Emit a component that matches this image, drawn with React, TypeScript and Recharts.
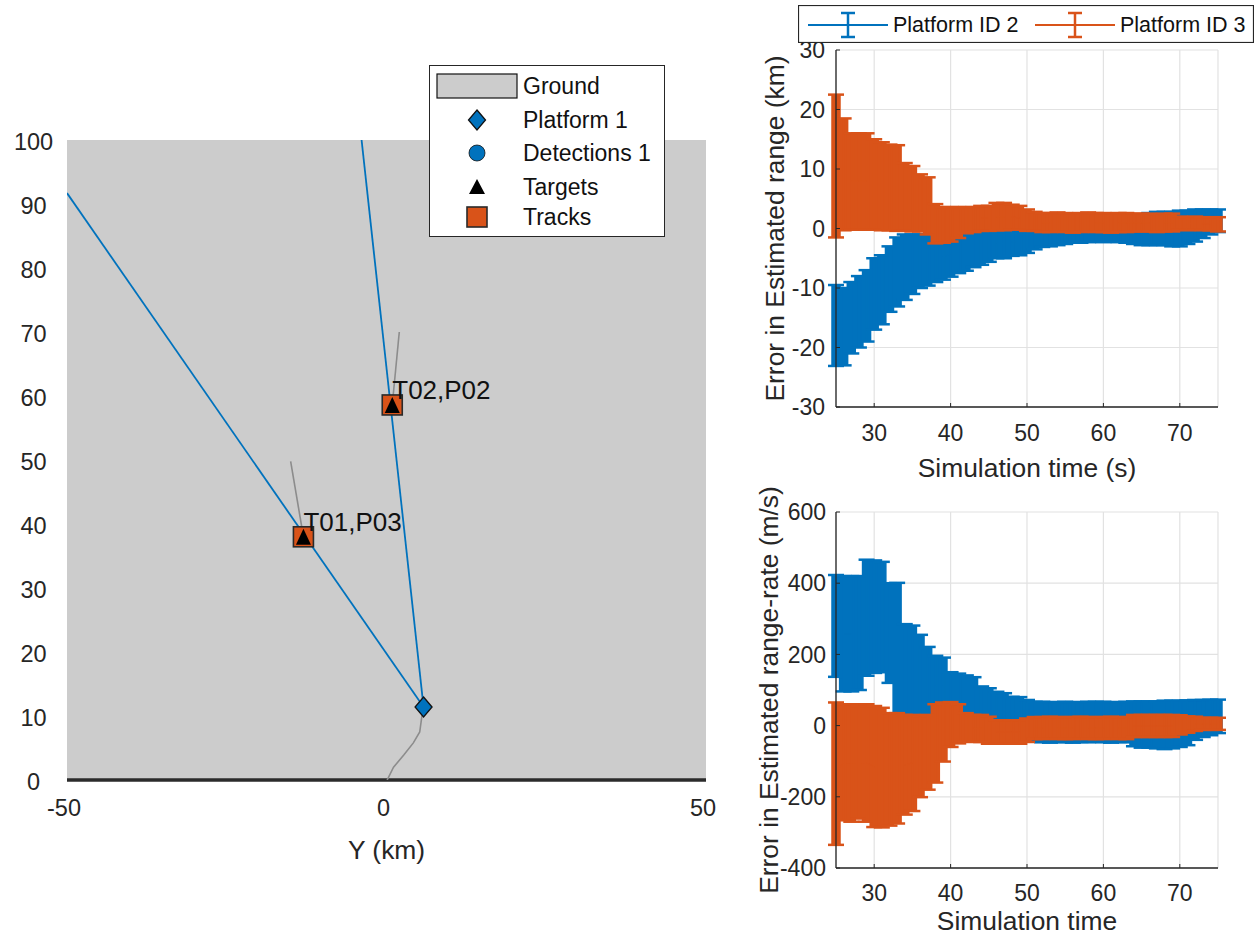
import React from 'react';
import {
  ScatterChart, Scatter, XAxis, YAxis, ReferenceArea, ComposedChart, Line,
  ErrorBar, CartesianGrid, Legend,
} from 'recharts';

const FONT = "'Liberation Sans', Arial, Helvetica, sans-serif";
const TXT = '#262626';
const BLUE = '#0072BD';
const ORANGE = '#D95319';
const GRID = '#e2e2e2';

// ---------- Theater plot data (km) ----------
const platformTrajX = [0.1, 1.1, 2.7, 4.2, 5.2, 5.5, 5.8];
const platformTrajY = [0, 2.0, 3.9, 5.8, 7.5, 9.7, 11.4];
const platformX = [5.8];
const platformY = [11.4];
const detectionAX = [-50, 5.8];
const detectionAY = [91.7, 11.4];
const detectionBX = [5.8, -3.9];
const detectionBY = [11.4, 100];
const target1TrajX = [-13.0, -15.0];
const target1TrajY = [38.0, 49.8];
const target2TrajX = [0.9, 2.0];
const target2TrajY = [58.6, 70.0];
const targetX = [-13.0, 0.9];
const targetY = [38.0, 58.6];
const trackLabels = ['T01,P03', 'T02,P02'];
const theaterXTicks = [-50, 0, 50];
const theaterYTicks = [0, 10, 20, 30, 40, 50, 60, 70, 80, 90, 100];

// ---------- Error plots ----------
const simTime = [25, 26, 27, 28, 29, 30, 31, 32, 33, 34, 35, 36, 37, 38, 39, 40, 41, 42, 43, 44, 45, 46, 47, 48, 49, 50,
  51, 52, 53, 54, 55, 56, 57, 58, 59, 60, 61, 62, 63, 64, 65, 66, 67, 68, 69, 70, 71, 72, 73, 74, 75];
const timeTicks = [30, 40, 50, 60, 70];

// range error (km)
const rangeErrId2 = [-16.3, -16.5, -15, -14, -13, -11, -10.3, -8.5, -7.3, -6.5,
  -6, -5.5, -5.3, -5, -4.8, -4.3, -4, -3.8, -3.5, -3.3,
  -2.8, -2.5, -2.5, -2.3, -2.1, -1.8, -1.5, -1.2, -1.1, -0.9,
  -0.8, -0.6, -0.6, -0.5, -0.4, -0.4, -0.3, -0.3, -0.3, -0.3,
  -0.3, -0.1, 0, 0, -0.1, 0, 0.2, 0.5, 0.8, 1.1, 1.3];
const rangeSigmaId2 = [6.8, 6.5, 6, 6, 6, 6, 5.8, 5.5, 5.8, 5.5,
  5, 4.5, 4.3, 4, 3.8, 3.8, 3.5, 3.3, 3, 2.8,
  2.8, 2.5, 2.5, 2.3, 2.4, 2.3, 2, 1.9, 1.9, 1.9,
  1.8, 1.8, 1.8, 1.8, 1.8, 1.9, 1.9, 2, 2.1, 2.3,
  2.5, 2.7, 2.8, 2.8, 2.9, 3, 2.8, 2.7, 2.4, 2.1, 1.9];
const rangeErrId3 = [10.5, 9.1, 7.9, 7.9, 7.9, 7.4, 7.1, 6.9, 6.8, 5.3,
  5, 4.3, 3.8, 0.8, 0.6, 0.7, 1, 1.4, 1.5, 1.7,
  1.7, 2, 2, 1.9, 1.8, 1.4, 1.2, 1, 1, 1.1,
  1, 0.9, 1, 1.1, 1, 1, 0.9, 1, 1, 1,
  1, 1, 0.9, 1, 1, 0.9, 0.8, 0.9, 0.8, 0.8, 0.7];
const rangeSigmaId3 = [12, 9.4, 8.1, 8.1, 8.1, 7.6, 7.4, 7.2, 7.2, 5.7,
  5.5, 4.8, 4.8, 3.3, 3, 2.9, 2.6, 2.2, 2.1, 2.1,
  2.1, 2.3, 2.3, 2.1, 2, 1.8, 1.6, 1.6, 1.6, 1.6,
  1.6, 1.6, 1.6, 1.6, 1.6, 1.6, 1.6, 1.6, 1.6, 1.5,
  1.5, 1.5, 1.5, 1.5, 1.5, 1.1, 1.1, 1.1, 1.1, 1.1, 1.2];
const rangeTicks = [-30, -20, -10, 0, 10, 20, 30];

// range-rate error (m/s)
const rateErrId2 = [280, 258, 258, 260, 303, 306, 305, 260, 213, 155,
  153, 140, 123, 113, 113, 90, 88, 83, 78, 60,
  55, 45, 38, 28, 25, 16, 11, 10, 9, 10,
  10, 9, 10, 10, 11, 10, 9, 10, 10, 5,
  3, 3, 2, 2, 3, 5, 8, 16, 20, 23, 26];
const rateSigmaId2 = [143, 162, 162, 160, 163, 158, 155, 140, 188, 130,
  128, 115, 98, 83, 78, 60, 58, 58, 58, 50,
  50, 50, 53, 53, 55, 56, 56, 57, 57, 56,
  57, 57, 56, 57, 56, 57, 57, 56, 57, 63,
  65, 65, 66, 68, 67, 65, 63, 56, 52, 50, 47];
const rateErrId3 = [-135, -103, -105, -103, -105, -115, -118, -123, -120, -110,
  -105, -88, -75, -50, -18, 3, 5, -5, -8, -8,
  -13, -18, -18, -18, -18, -13, -7, -7, -6, -7,
  -7, -7, -6, -7, -7, -7, -6, -7, -7, -1,
  -1, -1, -1, -1, -1, 2, 3, 5, 5, 5, 5];
const rateSigmaId3 = [200, 163, 165, 158, 165, 170, 168, 158, 155, 140,
  135, 113, 105, 110, 83, 63, 55, 40, 38, 38,
  38, 33, 33, 33, 33, 33, 31, 31, 31, 31,
  31, 31, 31, 31, 31, 31, 31, 31, 31, 31,
  31, 31, 31, 31, 31, 27, 23, 20, 17, 17, 17];
const rateTicks = [-400, -200, 0, 200, 400, 600];

const seriesNames = ['Platform ID 2', 'Platform ID 3'];

// ---------- helpers ----------
const pts = (xs: number[], ys: number[]) => xs.map((x, i) => ({ x, y: ys[i] }));

const rangeRows = simTime.map((t, i) => ({
  t, c2: rangeErrId2[i], e2: rangeSigmaId2[i], c3: rangeErrId3[i], e3: rangeSigmaId3[i],
}));
const rateRows = simTime.map((t, i) => ({
  t, c2: rateErrId2[i], e2: rateSigmaId2[i], c3: rateErrId3[i], e3: rateSigmaId3[i],
}));

const tickStyle = { fill: TXT, fontSize: 23, fontFamily: FONT };
const noShape = () => <g />;

// theater axes draw their tick labels centred on the label position
const TheaterYTick = (p: any) => (
  <text x={p.x} y={p.y + 2} textAnchor="middle" dominantBaseline="central" fill={TXT} fontSize={23.5} fontFamily={FONT}>
    {p.payload.value}
  </text>
);
const TheaterXTick = (p: any) => (
  <text x={p.x - 3} y={p.y} textAnchor="middle" dominantBaseline="central" fill={TXT} fontSize={23.5} fontFamily={FONT}>
    {p.payload.value}
  </text>
);

const DiamondShape = (p: any) => (
  <polygon
    points={`${p.cx},${p.cy - 10} ${p.cx + 8.5},${p.cy} ${p.cx},${p.cy + 10} ${p.cx - 8.5},${p.cy}`}
    fill={BLUE} stroke="#111" strokeWidth={1.3}
  />
);
const TriangleShape = (p: any) => (
  <polygon points={`${p.cx},${p.cy - 8} ${p.cx + 7.5},${p.cy + 8} ${p.cx - 7.5},${p.cy + 8}`} fill="#000" />
);
const TrackShape = (p: any) => (
  <g>
    <rect x={p.cx - 10} y={p.cy - 10} width={20} height={20} fill={ORANGE} stroke="#2a2a2a" strokeWidth={1.6} />
    <text x={p.cx} y={p.cy - 15} dominantBaseline="central" fontSize={26} fontFamily={FONT} fill="#111">
      {p.payload.label}
    </text>
  </g>
);

const xLabel = (text: string, dy: number) => (props: any) => {
  const vb = props.viewBox;
  return (
    <text x={vb.x + vb.width / 2} y={vb.y + dy} textAnchor="middle" dominantBaseline="central"
      fill={TXT} fontSize={26.4} fontFamily={FONT}>{text}</text>
  );
};
const yLabel = (text: string, dx: number) => (props: any) => {
  const vb = props.viewBox;
  const cx = vb.x + dx;
  const cy = vb.y + vb.height / 2;
  return (
    <text x={cx} y={cy} transform={`rotate(-90 ${cx} ${cy})`} textAnchor="middle" dominantBaseline="central"
      fill={TXT} fontSize={26.4} fontFamily={FONT}>{text}</text>
  );
};

const TheaterLegend = () => {
  const rows = [21, 55, 88, 122, 152];
  const ix = 48;
  const tx = 94;
  const labels = ['Ground', 'Platform 1', 'Detections 1', 'Targets', 'Tracks'];
  return (
    <svg width={236} height={172} style={{ display: 'block' }}>
      <rect x={0.5} y={0.5} width={235} height={171} fill="#fff" stroke={TXT} strokeWidth={1} />
      <rect x={8} y={9} width={80} height={24} fill="#CCCCCC" stroke="#111" strokeWidth={1.2} />
      <polygon points={`${ix},${rows[1] - 10} ${ix + 8.5},${rows[1]} ${ix},${rows[1] + 10} ${ix - 8.5},${rows[1]}`}
        fill={BLUE} stroke="#111" strokeWidth={1.3} />
      <circle cx={ix} cy={rows[2]} r={8} fill={BLUE} stroke="#111" strokeWidth={0.8} />
      <polygon points={`${ix},${rows[3] - 8} ${ix + 8},${rows[3] + 7} ${ix - 8},${rows[3] + 7}`} fill="#000" />
      <rect x={ix - 10} y={rows[4] - 10} width={20} height={20} fill={ORANGE} stroke="#2a2a2a" strokeWidth={1.6} />
      {labels.map((l, i) => (
        <text key={l} x={tx} y={rows[i]} dominantBaseline="central" fontSize={23} fontFamily={FONT} fill="#111">{l}</text>
      ))}
    </svg>
  );
};

const ErrLegend = () => {
  const colors = [BLUE, ORANGE];
  const starts = [10, 237];
  return (
    <svg width={456} height={38} style={{ display: 'block' }}>
      <rect x={0.5} y={0.5} width={455} height={37} fill="#fff" stroke={TXT} strokeWidth={1.2} />
      {seriesNames.map((n, i) => {
        const s = starts[i];
        const m = s + 40;
        return (
          <g key={n}>
            <line x1={s} y1={20} x2={s + 80} y2={20} stroke={colors[i]} strokeWidth={2} />
            <line x1={m} y1={8} x2={m} y2={32} stroke={colors[i]} strokeWidth={2.5} />
            <line x1={m - 7} y1={8} x2={m + 7} y2={8} stroke={colors[i]} strokeWidth={2.5} />
            <line x1={m - 7} y1={32} x2={m + 7} y2={32} stroke={colors[i]} strokeWidth={2.5} />
            <text x={s + 85} y={20} dominantBaseline="central" fontSize={21.5} fontFamily={FONT} fill="#111">{n}</text>
          </g>
        );
      })}
    </svg>
  );
};

const TheaterPlot = () => (
  <ScatterChart width={720} height={880} margin={{ top: 140, right: 14, bottom: 40, left: 7 }}>
    <XAxis type="number" dataKey="x" domain={[-50, 50]} ticks={theaterXTicks} allowDataOverflow
      height={60} tickSize={0} tickMargin={28} tick={TheaterXTick}
      axisLine={{ stroke: '#2b2b2b', strokeWidth: 3.5 }} tickLine={false}
      label={xLabel('Y (km)', 70)} />
    <YAxis type="number" dataKey="y" domain={[0, 100]} ticks={theaterYTicks} allowDataOverflow
      width={60} tickSize={0} tickMargin={33.5} tick={TheaterYTick} axisLine={false} tickLine={false} />
    <ReferenceArea x1={-50} x2={50} y1={0} y2={100} fill="#CCCCCC" fillOpacity={1} stroke="none" />
    <Scatter name="Platform trajectory" data={pts(platformTrajX, platformTrajY)} line={{ stroke: '#8c8c8c', strokeWidth: 1.6 }}
      shape={noShape} isAnimationActive={false} />
    <Scatter name="Target 1 trajectory" data={pts(target1TrajX, target1TrajY)} line={{ stroke: '#8c8c8c', strokeWidth: 1.6 }}
      shape={noShape} isAnimationActive={false} />
    <Scatter name="Target 2 trajectory" data={pts(target2TrajX, target2TrajY)} line={{ stroke: '#8c8c8c', strokeWidth: 1.6 }}
      shape={noShape} isAnimationActive={false} />
    <Scatter name="Detections 1a" data={pts(detectionAX, detectionAY)} line={{ stroke: BLUE, strokeWidth: 1.8 }}
      shape={noShape} isAnimationActive={false} />
    <Scatter name="Detections 1b" data={pts(detectionBX, detectionBY)} line={{ stroke: BLUE, strokeWidth: 1.8 }}
      shape={noShape} isAnimationActive={false} />
    <Scatter name="Tracks" data={targetX.map((x, i) => ({ x, y: targetY[i], label: trackLabels[i] }))}
      shape={TrackShape} isAnimationActive={false} />
    <Scatter name="Targets" data={pts(targetX, targetY)} shape={TriangleShape} isAnimationActive={false} />
    <Scatter name="Platform 1" data={pts(platformX, platformY)} shape={DiamondShape} isAnimationActive={false} />
    <Legend verticalAlign="middle" layout="horizontal" align="center" content={() => <TheaterLegend />}
      wrapperStyle={{ position: 'absolute', left: 429, top: 65, width: 236, height: 172, margin: 0 }} />
  </ScatterChart>
);

const ErrSeries = (rows: any[]) => [
  <Line key="s2" data={rows} dataKey="c2" name={seriesNames[0]} stroke={BLUE} strokeWidth={1} dot={false}
    isAnimationActive={false}>
    <ErrorBar dataKey="e2" direction="y" width={0} strokeWidth={9.5} stroke={BLUE} />
    <ErrorBar dataKey="e2" direction="y" width={8} strokeWidth={2.5} stroke={BLUE} />
  </Line>,
  <Line key="s3" data={rows} dataKey="c3" name={seriesNames[1]} stroke={ORANGE} strokeWidth={1} dot={false}
    isAnimationActive={false}>
    <ErrorBar dataKey="e3" direction="y" width={0} strokeWidth={9.5} stroke={ORANGE} />
    <ErrorBar dataKey="e3" direction="y" width={8} strokeWidth={2.5} stroke={ORANGE} />
  </Line>,
];

const inwardTick = { stroke: TXT, strokeWidth: 1 };

const RangeChart = () => (
  <ComposedChart width={517} height={500} data={rangeRows} margin={{ top: 50, right: 39, bottom: 33, left: 0 }}>
    <CartesianGrid stroke={GRID} strokeWidth={1.2} />
    <XAxis type="number" dataKey="t" domain={[25, 75]} ticks={timeTicks} height={60} tickSize={-4} tickMargin={22}
      tick={tickStyle} axisLine={{ stroke: TXT, strokeWidth: 1.3 }} tickLine={inwardTick}
      label={xLabel('Simulation time (s)', 60.5)} />
    <YAxis type="number" domain={[-30, 30]} ticks={rangeTicks} width={96} tickSize={-4} tickMargin={15}
      tick={tickStyle} axisLine={{ stroke: TXT, strokeWidth: 1.3 }} tickLine={inwardTick}
      label={yLabel('Error in Estimated range (km)', 35)} />
    {ErrSeries(rangeRows)}
    <Legend verticalAlign="middle" layout="horizontal" align="center" content={() => <ErrLegend />}
      wrapperStyle={{ position: 'absolute', left: 58, top: 5, width: 456, height: 38, margin: 0 }} />
  </ComposedChart>
);

const RateChart = () => (
  <ComposedChart width={517} height={482} data={rateRows} margin={{ top: 52, right: 39, bottom: 24, left: 0 }}>
    <CartesianGrid stroke={GRID} strokeWidth={1.2} />
    <XAxis type="number" dataKey="t" domain={[25, 75]} ticks={timeTicks} height={50} tickSize={-4} tickMargin={21}
      tick={tickStyle} axisLine={{ stroke: TXT, strokeWidth: 1.3 }} tickLine={inwardTick}
      label={xLabel('Simulation time', 53)} />
    <YAxis type="number" domain={[-400, 600]} ticks={rateTicks} width={96} tickSize={-4} tickMargin={14}
      tick={tickStyle} axisLine={{ stroke: TXT, strokeWidth: 1.3 }} tickLine={inwardTick}
      label={yLabel('Error in Estimated range-rate (m/s)', 29)} />
    {ErrSeries(rateRows)}
  </ComposedChart>
);

export default function App() {
  return (
    <div style={{ position: 'absolute', left: 0, top: 0, width: 1257, height: 942, background: '#fff', fontFamily: FONT }}>
      <div style={{ position: 'absolute', left: 0, top: 0 }}><TheaterPlot /></div>
      <div style={{ position: 'absolute', left: 740, top: 0 }}><RangeChart /></div>
      <div style={{ position: 'absolute', left: 740, top: 460 }}><RateChart /></div>
    </div>
  );
}
